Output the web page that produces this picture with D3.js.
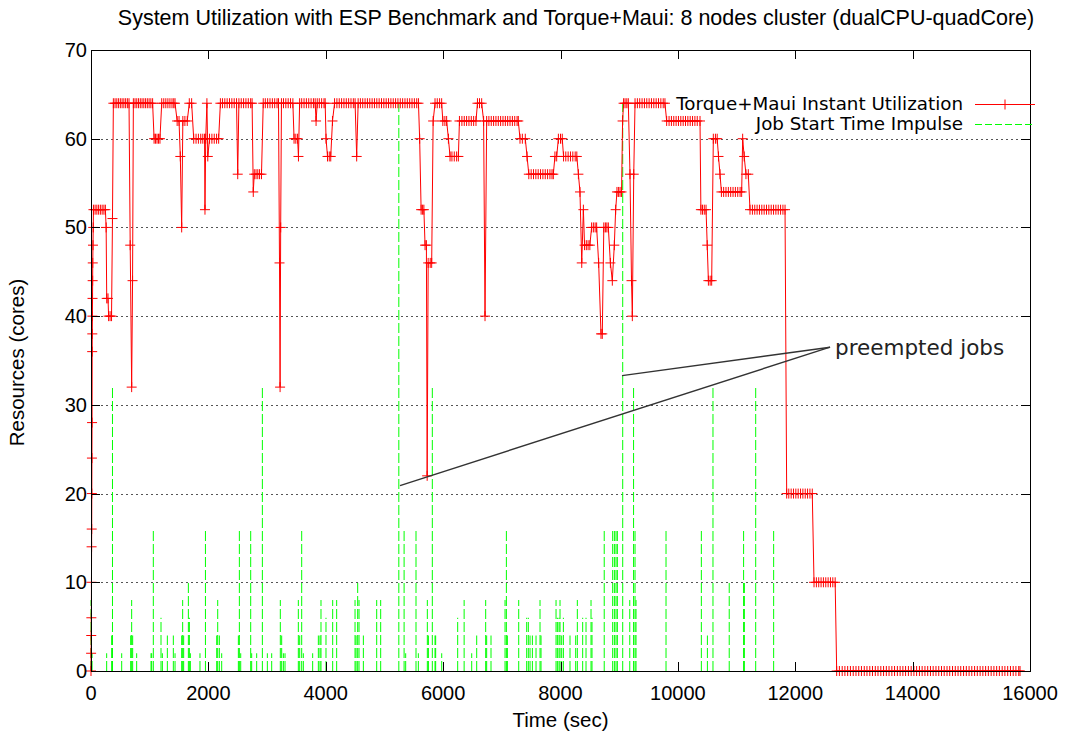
<!DOCTYPE html>
<html>
<head>
<meta charset="utf-8">
<script src="https://cdn.jsdelivr.net/npm/d3@7/dist/d3.min.js"></script>
<style>
	body { margin: 0; background: #fff; }
	svg { display: block; }
</style>
</head>
<body>
<svg id="main_svg"></svg>
<script>
const WIDTH = 1067;
const HEIGHT = 735;
const MARGIN_LEFT = 91;
const MARGIN_RIGHT = 37;
const MARGIN_TOP = 50;
const MARGIN_BOTTOM = 64;

const TITLE = 'System Utilization with ESP Benchmark and Torque+Maui: 8 nodes cluster (dualCPU-quadCore)';
const X_LABEL = 'Time (sec)';
const Y_LABEL = 'Resources (cores)';
const SERIES_NAMES = ['Torque+Maui Instant Utilization', 'Job Start Time Impulse'];
const ANNOTATION = 'preempted jobs';

const X_TICKS = [0, 2000, 4000, 6000, 8000, 10000, 12000, 14000, 16000];
const Y_TICKS = [0, 10, 20, 30, 40, 50, 60, 70];

// [time (sec), busy cores]
const utilization = [
	[0,0],[2,2],[4,4],[6,6],[8,10],[10,14],[12,16],[14,20],[16,24],[18,28],[20,36],[22,38],[24,40],[26,42],[28,44],[30,46],[34,48],[38,50],[42,52],
	[70,52],[100,52],[130,52],[160,52],[190,52],[220,52],[245,52],
	[258,50],[268,42],[290,42],[300,40],[325,40],[350,40],[366,51],[381,64],
	[410,64],[440,64],[470,64],[500,64],[530,64],[560,64],[590,64],[620,64],[648,64],
	[668,48],[693,32],[708,44],[722,64],
	[750,64],[780,64],[810,64],[840,64],[870,64],[900,64],[930,64],[960,64],[990,64],[1020,64],[1050,64],
	[1075,60],[1100,60],[1125,60],[1150,60],[1175,60],[1205,64],
	[1240,64],[1275,64],[1310,64],[1345,64],[1380,64],[1410,64],[1432,64],
	[1468,62],[1500,62],[1522,58],[1545,50],[1565,62],[1600,62],[1640,62],[1675,64],[1715,64],
	[1750,60],[1790,60],[1830,60],[1870,60],[1905,60],[1935,60],[1942,52],[1955,60],[1975,64],[1990,58],[2020,60],[2060,60],[2100,60],[2140,60],[2175,60],[2205,64],
	[2240,64],[2280,64],[2320,64],[2360,64],[2400,64],[2440,64],[2480,64],
	[2500,56],[2520,64],
	[2560,64],[2600,64],[2640,64],[2680,64],[2720,64],[2745,64],
	[2765,54],[2782,56],[2812,56],[2842,56],[2872,56],[2905,56],[2935,64],
	[2970,64],[3010,64],[3050,64],[3090,64],[3130,64],[3170,64],[3195,64],
	[3212,46],[3222,32],[3232,50],[3245,64],
	[3280,64],[3320,64],[3360,64],[3400,64],[3440,64],
	[3460,60],[3490,60],[3520,60],[3535,58],[3555,64],
	[3590,64],[3630,64],[3670,64],[3710,64],[3750,64],[3790,64],[3820,64],
	[3835,62],[3855,64],[3890,64],[3930,64],[3970,64],[3990,64],
	[4005,60],[4030,58],[4060,58],[4085,58],[4115,62],[4150,64],
	[4190,64],[4230,64],[4270,64],[4310,64],[4350,64],[4390,64],[4430,64],[4470,64],[4500,64],
	[4527,58],[4552,64],
	[4590,64],[4630,64],[4670,64],[4710,64],[4750,64],[4790,64],[4830,64],[4870,64],[4910,64],[4950,64],[4990,64],[5030,64],[5070,64],
	[5110,64],[5150,64],[5190,64],[5230,64],[5270,64],[5310,64],[5350,64],[5390,64],[5430,64],[5470,64],[5510,64],[5550,64],[5580,64],
	[5600,60],[5625,52],[5650,52],[5672,52],[5692,48],[5715,48],[5728,22],[5745,46],[5780,46],[5805,46],[5830,62],
	[5862,64],[5900,64],[5940,64],[5975,64],
	[5995,62],[6030,62],[6060,62],[6090,60],[6118,58],[6150,58],[6190,58],[6230,58],[6260,58],
	[6278,62],[6320,62],[6360,62],[6400,62],[6440,62],[6480,62],[6520,62],[6560,62],
	[6585,64],[6620,64],[6657,64],
	[6690,62],[6714,40],[6742,62],[6780,62],[6820,62],[6860,62],[6900,62],[6940,62],[6980,62],[7020,62],[7060,62],[7100,62],[7140,62],[7180,62],[7220,62],[7260,62],[7281,62],
	[7310,60],[7350,60],[7400,60],[7430,58],[7460,56],[7500,56],[7540,56],[7580,56],[7620,56],[7660,56],[7700,56],[7740,56],[7780,56],[7820,56],[7855,56],[7878,56],
	[7905,58],[7935,58],[7964,60],[8000,60],[8030,60],[8052,58],[8090,58],[8130,58],[8170,58],[8210,58],[8250,58],[8278,58],
	[8305,56],[8332,54],[8362,46],[8390,52],[8410,48],[8440,48],[8470,48],[8500,48],[8530,50],[8560,50],[8590,50],[8616,50],
	[8650,46],[8690,38],[8712,38],[8738,50],[8765,50],[8790,50],[8815,50],
	[8850,46],[8883,44],[8917,48],[8940,52],[8962,54],[8990,54],[9015,54],[9040,54],[9058,62],[9075,64],[9100,64],[9130,64],[9156,64],
	[9184,56],[9210,44],[9224,40],[9248,56],[9270,64],
	[9310,64],[9350,64],[9390,64],[9430,64],[9470,64],[9510,64],[9550,64],[9590,64],[9630,64],[9670,64],[9710,64],[9750,64],[9780,64],
	[9809,62],[9850,62],[9890,62],[9930,62],[9970,62],[10010,62],[10050,62],[10090,62],[10130,62],[10170,62],[10210,62],[10250,62],[10290,62],[10330,62],[10377,62],
	[10392,52],[10420,52],[10450,52],[10480,52],[10500,48],[10520,44],[10550,44],[10576,44],
	[10604,60],[10640,60],[10670,60],[10692,58],[10718,56],[10742,54],[10780,54],[10820,54],[10860,54],[10900,54],[10940,54],[10980,54],[11020,54],[11060,54],[11087,54],
	[11104,60],[11130,58],[11160,56],[11200,56],[11229,52],
	[11270,52],[11310,52],[11350,52],[11390,52],[11430,52],[11470,52],[11510,52],[11550,52],[11590,52],[11630,52],[11670,52],[11710,52],[11750,52],[11790,52],[11826,52],
	[11854,20],[11890,20],[11930,20],[11970,20],[12010,20],[12050,20],[12090,20],[12130,20],[12170,20],[12210,20],[12250,20],[12290,20],
	[12320,10],[12360,10],[12400,10],[12440,10],[12480,10],[12520,10],[12560,10],[12600,10],[12640,10],[12680,10],
	[12706,0],[12752,0],[12800,0],[12846,0],[12893,0],[12940,0],[12988,0],[13035,0],[13082,0],[13128,0],[13176,0],[13222,0],[13270,0],[13316,0],
	[13364,0],[13410,0],[13458,0],[13505,0],[13552,0],[13598,0],[13646,0],[13692,0],[13740,0],[13787,0],[13834,0],[13880,0],[13928,0],[13975,0],
	[14022,0],[14068,0],[14116,0],[14162,0],[14210,0],[14257,0],[14304,0],[14350,0],[14398,0],[14445,0],[14492,0],[14538,0],[14586,0],[14632,0],
	[14680,0],[14727,0],[14774,0],[14820,0],[14868,0],[14915,0],[14962,0],[15008,0],[15056,0],[15102,0],[15150,0],[15197,0],[15244,0],[15290,0],
	[15338,0],[15385,0],[15432,0],[15478,0],[15526,0],[15572,0],[15620,0],[15667,0],[15714,0],[15760,0],[15808,0],[15830,0]
];

// [start time (sec), job size (cores)]
const jobStarts = [
	[0,8],[8,2],[18,2],[267,2],[352,4],[366,32],[523,2],[676,4],[693,8],[710,4],[778,2],
	[1023,2],[1034,2],[1062,16],[1193,6],[1216,2],[1301,4],[1403,4],[1432,2],[1545,4],[1562,8],[1579,4],
	[1659,10],[1676,6],[1693,2],[1857,2],[1950,16],[2142,4],[2159,8],[2187,4],[2227,2],
	[2511,4],[2528,16],[2551,2],[2721,16],[2738,2],[2823,2],[2920,32],[3005,2],[3079,2],
	[3226,8],[3249,4],[3278,2],[3306,2],[3533,8],[3556,4],[3590,16],[3618,2],[3777,2],
	[3874,4],[3902,4],[3919,8],[4004,6],[4118,8],[4186,8],[4499,8],[4516,4],[4544,10],[4567,8],[4641,4],
	[4868,8],[4936,8],[5245,64],[5335,16],[5362,2],[5538,16],[5578,2],[5731,8],[5749,4],[5816,32],
	[5862,4],[5873,4],[5976,2],[6248,6],[6358,8],[6487,2],[6572,4],[6725,8],[6742,4],[6816,4],
	[7055,8],[7078,16],[7095,4],[7288,8],[7424,6],[7452,6],[7481,4],[7521,4],[7583,4],[7651,8],[7668,4],
	[7924,8],[7947,6],[7975,6],[7992,8],[8020,4],[8049,6],[8162,4],[8259,4],[8287,8],[8378,6],[8435,6],
	[8520,8],[8537,6],[8745,16],[8889,16],[8918,16],[8946,16],[8969,16],[9060,64],[9180,8],[9245,32],
	[9270,16],[9287,8],[9798,16],[10400,16],[10503,4],[10598,32],[10875,10],[11120,16],[11133,10],
	[11326,32],[11632,16]
];

// callout: two leader lines from the dips to the label
const calloutFrom = [[5265, 20.9], [9048, 33.3]];
const calloutTo = [12593, 36.5];

const PLOT_RIGHT = WIDTH - MARGIN_RIGHT;
const PLOT_BOTTOM = HEIGHT - MARGIN_BOTTOM;

const x = d3.scaleLinear().domain([0, 16000]).range([MARGIN_LEFT, PLOT_RIGHT]);
const y = d3.scaleLinear().domain([0, 70]).range([PLOT_BOTTOM, MARGIN_TOP]);

const svg = d3.select('#main_svg')
	.attr('width', WIDTH)
	.attr('height', HEIGHT)
	.style('background', '#fff');

const SANS = '"Liberation Sans", Arial, sans-serif';
const DEJAVU = '"DejaVu Sans", sans-serif';

// grid
svg.append('g')
	.selectAll('line')
	.data(Y_TICKS.filter(d => d > 0 && d < 70))
	.enter()
	.append('line')
	.attr('x1', MARGIN_LEFT)
	.attr('x2', PLOT_RIGHT)
	.attr('y1', d => Math.round(y(d)) + 0.5)
	.attr('y2', d => Math.round(y(d)) + 0.5)
	.attr('stroke', '#555')
	.attr('stroke-width', 1)
	.attr('stroke-dasharray', '2,3');

// job start impulses
svg.append('g')
	.selectAll('line')
	.data(jobStarts)
	.enter()
	.append('line')
	.attr('x1', d => x(d[0]))
	.attr('x2', d => x(d[0]))
	.attr('y1', y(0))
	.attr('y2', d => y(d[1]))
	.attr('stroke', '#00ff00')
	.attr('stroke-width', 1)
	.attr('stroke-dasharray', '10,3');

// utilization line
const line = d3.line()
	.x(d => x(d[0]))
	.y(d => y(d[1]));

svg.append('path')
	.datum(utilization)
	.attr('d', line)
	.attr('fill', 'none')
	.attr('stroke', '#ff0000')
	.attr('stroke-width', 1);

const plus = (cx, cy, r) => `M${cx - r},${cy}H${cx + r}M${cx},${cy - r}V${cy + r}`;

svg.append('path')
	.attr('d', utilization.map(d => plus(x(d[0]), y(d[1]), 5)).join(''))
	.attr('fill', 'none')
	.attr('stroke', '#ff0000')
	.attr('stroke-width', 1);

// border and inward ticks
const frame = svg.append('g').attr('stroke', '#000').attr('stroke-width', 1).attr('fill', 'none');
frame.append('rect')
	.attr('x', MARGIN_LEFT + 0.5)
	.attr('y', MARGIN_TOP + 0.5)
	.attr('width', PLOT_RIGHT - MARGIN_LEFT)
	.attr('height', PLOT_BOTTOM - MARGIN_TOP);

X_TICKS.forEach(t => {
	const px = Math.round(x(t)) + 0.5;
	frame.append('line').attr('x1', px).attr('x2', px).attr('y1', PLOT_BOTTOM).attr('y2', PLOT_BOTTOM - 9);
	frame.append('line').attr('x1', px).attr('x2', px).attr('y1', MARGIN_TOP).attr('y2', MARGIN_TOP + 9);
});
Y_TICKS.forEach(t => {
	const py = Math.round(y(t)) + 0.5;
	frame.append('line').attr('x1', MARGIN_LEFT).attr('x2', MARGIN_LEFT + 9).attr('y1', py).attr('y2', py);
	frame.append('line').attr('x1', PLOT_RIGHT).attr('x2', PLOT_RIGHT - 9).attr('y1', py).attr('y2', py);
});

// tick labels
svg.append('g')
	.selectAll('text')
	.data(X_TICKS)
	.enter()
	.append('text')
	.attr('x', d => x(d))
	.attr('y', PLOT_BOTTOM + 29)
	.attr('text-anchor', 'middle')
	.attr('font-family', SANS)
	.attr('font-size', '20px')
	.text(d => d);

svg.append('g')
	.selectAll('text')
	.data(Y_TICKS)
	.enter()
	.append('text')
	.attr('x', MARGIN_LEFT - 4)
	.attr('y', d => y(d) + 7)
	.attr('text-anchor', 'end')
	.attr('font-family', SANS)
	.attr('font-size', '20px')
	.text(d => d);

// titles
svg.append('text')
	.attr('x', 576)
	.attr('y', 25)
	.attr('text-anchor', 'middle')
	.attr('font-family', SANS)
	.attr('font-size', '21.5px')
	.text(TITLE);

svg.append('text')
	.attr('x', (MARGIN_LEFT + PLOT_RIGHT) / 2)
	.attr('y', HEIGHT - 8)
	.attr('text-anchor', 'middle')
	.attr('font-family', SANS)
	.attr('font-size', '20.5px')
	.text(X_LABEL);

svg.append('text')
	.attr('transform', `translate(24, ${(MARGIN_TOP + PLOT_BOTTOM) / 2 + 2}) rotate(-90)`)
	.attr('text-anchor', 'middle')
	.attr('font-family', SANS)
	.attr('font-size', '20.5px')
	.text(Y_LABEL);

// legend
const legend = svg.append('g');
const LEGEND_X = 963;
const LEGEND_Y = [104, 124];

SERIES_NAMES.forEach((name, i) => {
	legend.append('text')
		.attr('x', LEGEND_X)
		.attr('y', LEGEND_Y[i] + 6)
		.attr('text-anchor', 'end')
		.attr('font-family', DEJAVU)
		.attr('font-size', '18.3px')
		.text(name);
});

legend.append('line')
	.attr('x1', 975).attr('x2', 1035)
	.attr('y1', LEGEND_Y[0] + 0.5).attr('y2', LEGEND_Y[0] + 0.5)
	.attr('stroke', '#ff0000');
legend.append('path')
	.attr('d', plus(1005, LEGEND_Y[0] + 0.5, 5))
	.attr('stroke', '#ff0000');
legend.append('line')
	.attr('x1', 975).attr('x2', 1035)
	.attr('y1', LEGEND_Y[1] + 0.5).attr('y2', LEGEND_Y[1] + 0.5)
	.attr('stroke', '#00ff00')
	.attr('stroke-dasharray', '7,3');

// preempted jobs callout
calloutFrom.forEach(p => {
	svg.append('line')
		.attr('x1', x(p[0])).attr('y1', y(p[1]))
		.attr('x2', x(calloutTo[0])).attr('y2', y(calloutTo[1]))
		.attr('stroke', '#333')
		.attr('stroke-width', 1.4);
});

svg.append('text')
	.attr('x', x(calloutTo[0]) + 5)
	.attr('y', y(calloutTo[1]) + 8)
	.attr('font-family', DEJAVU)
	.attr('font-size', '21.5px')
	.attr('fill', '#222')
	.text(ANNOTATION);
</script>
</body>
</html>
